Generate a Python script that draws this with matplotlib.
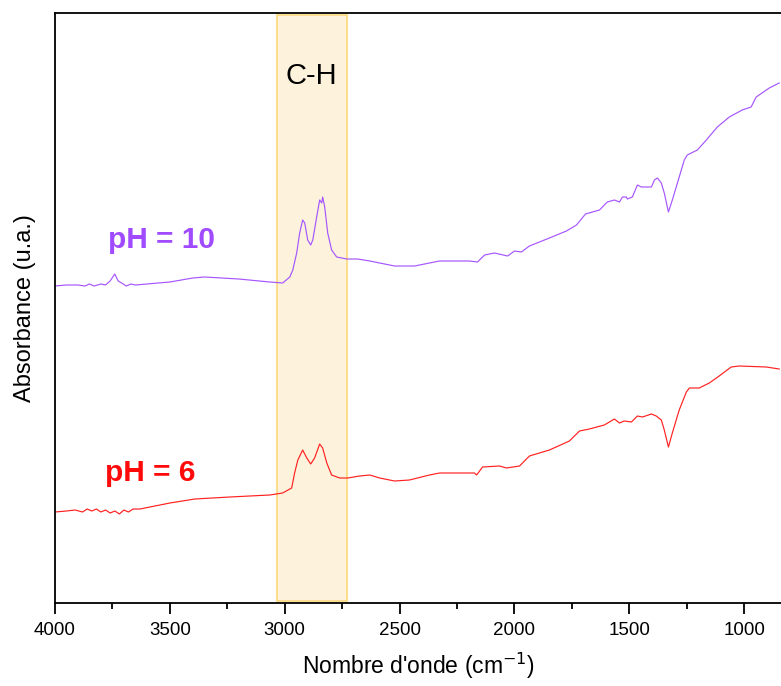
import numpy as np
import matplotlib
matplotlib.use('Agg')
import matplotlib.pyplot as plt
from matplotlib.ticker import MultipleLocator

plt.rcParams['font.family'] = ['Liberation Sans', 'DejaVu Sans']

# spectre pH = 10 (nombre d'onde, absorbance u.a.)
wn_10 = [4000, 3950, 3900, 3870, 3850, 3830, 3800, 3780, 3760, 3740, 3725, 3710,
         3690, 3670, 3650, 3600, 3500, 3400, 3350, 3200, 3065, 3009, 2978, 2965,
         2948, 2935, 2922, 2913, 2900, 2887, 2878, 2861, 2848, 2839, 2835, 2826,
         2813, 2796, 2774, 2730, 2683, 2630, 2587, 2522, 2435, 2370, 2326, 2196,
         2161, 2130, 2087, 2030, 2000, 1970, 1935, 1848, 1774, 1730, 1691, 1630,
         1596, 1565, 1543, 1530, 1513, 1509, 1487, 1465, 1448, 1404, 1391, 1378,
         1361, 1348, 1330, 1313, 1283, 1261, 1248, 1204, 1165, 1117, 1065, 1009,
         970, 948, 891, 848]
abs_10 = [3.17, 3.18, 3.18, 3.17, 3.19, 3.17, 3.19, 3.18, 3.22, 3.29, 3.22, 3.20,
          3.17, 3.19, 3.18, 3.19, 3.21, 3.25, 3.26, 3.24, 3.21, 3.20, 3.26, 3.33,
          3.50, 3.70, 3.83, 3.80, 3.63, 3.58, 3.63, 3.86, 4.03, 4.00, 4.06, 3.96,
          3.70, 3.53, 3.46, 3.44, 3.44, 3.42, 3.40, 3.37, 3.37, 3.40, 3.42, 3.42,
          3.41, 3.48, 3.50, 3.47, 3.52, 3.51, 3.57, 3.65, 3.72, 3.78, 3.89, 3.93,
          4.01, 4.03, 4.01, 4.06, 4.06, 4.04, 4.06, 4.18, 4.16, 4.16, 4.23, 4.25,
          4.20, 4.10, 3.91, 4.03, 4.26, 4.43, 4.48, 4.53, 4.63, 4.76, 4.86, 4.93,
          4.96, 5.06, 5.15, 5.20]

# spectre pH = 6
wn_6 = [4000, 3950, 3913, 3880, 3860, 3840, 3820, 3800, 3780, 3760, 3739, 3720,
        3700, 3680, 3660, 3630, 3500, 3391, 3239, 3065, 3009, 2970, 2957, 2943,
        2922, 2904, 2887, 2870, 2848, 2835, 2817, 2796, 2761, 2726, 2674, 2630,
        2587, 2522, 2457, 2370, 2326, 2174, 2165, 2139, 2065, 2035, 1978, 1935,
        1848, 1761, 1717, 1674, 1609, 1565, 1543, 1522, 1491, 1465, 1443, 1404,
        1383, 1361, 1348, 1330, 1313, 1283, 1252, 1239, 1196, 1152, 1109, 1057,
        1022, 904, 848]
abs_6 = [0.91, 0.92, 0.93, 0.91, 0.94, 0.92, 0.94, 0.91, 0.93, 0.90, 0.92, 0.89,
         0.93, 0.91, 0.94, 0.94, 1.00, 1.04, 1.06, 1.08, 1.10, 1.15, 1.30, 1.43,
         1.53, 1.45, 1.39, 1.45, 1.59, 1.55, 1.40, 1.28, 1.25, 1.25, 1.27, 1.28,
         1.25, 1.22, 1.23, 1.28, 1.30, 1.30, 1.28, 1.36, 1.37, 1.35, 1.37, 1.47,
         1.53, 1.62, 1.72, 1.74, 1.78, 1.84, 1.80, 1.82, 1.81, 1.87, 1.86, 1.89,
         1.87, 1.83, 1.73, 1.56, 1.70, 1.93, 2.11, 2.15, 2.15, 2.20, 2.27, 2.36,
         2.37, 2.36, 2.34]

# bande C-H
band_ch = (3035, 2730)

fig = plt.figure(figsize=(7.81, 6.86), dpi=100)
ax = fig.add_axes([55/781, 83/686, 1 - 55/781, 590/686])

ax.axvspan(band_ch[0], band_ch[1], ymin=0.003, ymax=0.997,
           facecolor='#FDF3DC', edgecolor='#FBDD8E', lw=1.5, zorder=0)

ax.plot(wn_10, abs_10, color='#A655FF', lw=0.85)
ax.plot(wn_6, abs_6, color='#FF2020', lw=0.85)

ax.text(3770, 3.63, 'pH = 10', color='#A04BFF', fontsize=21.5, fontweight='bold',
        ha='left', va='center')
ax.text(3783, 1.30, 'pH = 6', color='#FF0A0A', fontsize=21.5, fontweight='bold',
        ha='left', va='center')
ax.text(2883, 5.27, 'C-H', fontsize=21, ha='center', va='center')

ax.set_xlim(4000, 840)
ax.set_ylim(0, 5.9)
ax.xaxis.set_major_locator(MultipleLocator(500))
ax.xaxis.set_minor_locator(MultipleLocator(250))
ax.tick_params(axis='x', which='major', direction='out', length=8, width=1.3,
               labelsize=13.5, pad=6)
ax.tick_params(axis='x', which='minor', direction='out', length=4, width=1.3)
ax.set_yticks([])
ax.spines['right'].set_visible(False)
for s in ['left', 'top', 'bottom']:
    ax.spines[s].set_linewidth(1.3)

ax.set_xlabel("Nombre d'onde (cm$^{-1}$)", fontsize=16.5, labelpad=8)
ax.set_ylabel('Absorbance (u.a.)', fontsize=17, labelpad=14)

fig.savefig('out.png', dpi=100)
